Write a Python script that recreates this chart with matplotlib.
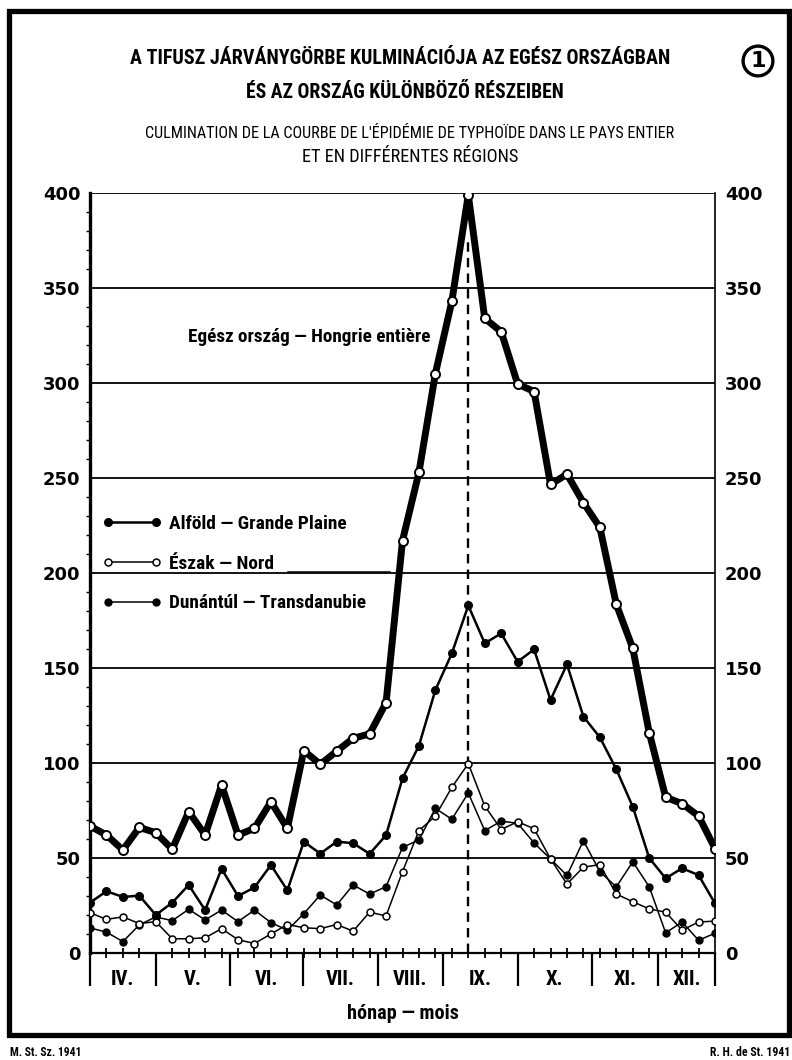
import matplotlib
matplotlib.use("Agg")
import matplotlib.pyplot as plt
from matplotlib import font_manager
from matplotlib.lines import Line2D
from matplotlib.patches import Rectangle
from matplotlib.ticker import MultipleLocator
import matplotlib.transforms as mtrans
import numpy as np

# weekly typhoid cases, April - December
weeks = np.arange(39)
egesz = [66.8, 62.1, 54.2, 66.1, 63.3, 54.6, 74.4, 62.1, 88.4, 62.1,
         65.6, 79.6, 65.6, 106.5, 99.3, 106.2, 113, 115.3, 131.7, 217,
         253, 305, 343, 399, 334, 327, 299.5, 295.5, 246.6, 252,
         237, 224, 183.5, 160.4, 116, 82, 78.6, 72.1, 55]
alfold = [26.5, 32.5, 29.5, 30.2, 20, 26.5, 35.8, 22.6, 44.3, 30,
          34.5, 46.3, 33, 58.6, 52.3, 58.6, 57.8, 52.2, 62, 91.9,
          109.1, 138.4, 157.7, 182.9, 163, 168.2, 153.3, 159.8, 133.2, 151.9,
          124.4, 113.5, 96.7, 77, 50, 39.3, 44.6, 41, 26.1]
eszak = [21.2, 17.7, 19, 15.5, 16.5, 7.5, 7.5, 8, 12.8, 7,
         5, 10, 15, 13.3, 12.8, 15, 11.5, 21.5, 19.5, 42.8,
         64.4, 72.1, 87.2, 99.7, 77.4, 65, 69.1, 65.4, 49.5, 36.3,
         45.2, 46.5, 31, 27, 23.2, 21.5, 12, 16.3, 16.8]
dunantul = [13.2, 11, 6, 14.8, 19, 17, 23, 17.4, 22.6, 16.5,
            22.6, 16, 12, 20.7, 30.5, 25.3, 35.8, 31, 34.9, 55.6,
            59.5, 76.1, 70.4, 84.2, 64.4, 69.4, 68.3, 57.9, 49.5, 40.8,
            59.1, 42.8, 34.8, 48, 34.9, 10.6, 16.3, 6.7, 10.4]

month_names = ["IV.", "V.", "VI.", "VII.", "VIII.", "IX.", "X.", "XI.", "XII."]
month_edges = [0, 4.0, 8.5, 12.95, 17.5, 21.45, 26.0, 30.5, 34.55, 38]
yticks = list(range(0, 401, 50))


def pick_narrow():
    # look for any condensed / narrow face that is installed
    best = None
    for f in font_manager.fontManager.ttflist:
        name = f.name
        cond = ("Narrow" in name or "Condensed" in name
                or f.stretch in ("condensed", "semi-condensed", "extra-condensed", 500))
        if cond:
            if best is None or f.weight in ("bold", 700):
                best = f
    if best is None:
        return {"family": "DejaVu Sans"}
    return {"family": best.name, "stretch": best.stretch}


NARROW = pick_narrow()

fig = plt.figure(figsize=(7.92, 10.6), dpi=100, facecolor="white")
renderer = fig.canvas.get_renderer()


def fit(t, width_px, max_size=None):
    # shrink/grow a text so it spans the width seen in the print
    w = t.get_window_extent(renderer).width
    size = t.get_fontsize() * width_px / w
    if max_size:
        size = min(size, max_size)
    t.set_fontsize(size)
    return t


def ntext(target, x, y, s, width_px, bold=True, max_size=None, **kw):
    t = target.text(x, y, s, weight="bold" if bold else "normal", fontsize=12,
                    **NARROW, **kw)
    return fit(t, width_px, max_size)


# outer frame
fig.add_artist(Rectangle((8.5 / 792, 25 / 1060), 780 / 792, 1024 / 1060,
                         transform=fig.transFigure, fill=False, lw=3.8, ec="black"))

# titles
ntext(fig, 400 / 792, 1 - 58 / 1060, "A TIFUSZ JÁRVÁNYGÖRBE KULMINÁCIÓJA AZ EGÉSZ ORSZÁGBAN",
      540, ha="center", va="center")
ntext(fig, 405 / 792, 1 - 93 / 1060, "ÉS AZ ORSZÁG KÜLÖNBÖZŐ RÉSZEIBEN",
      318, ha="center", va="center")
ntext(fig, 410 / 792, 1 - 134 / 1060,
      "CULMINATION DE LA COURBE DE L'ÉPIDÉMIE DE TYPHOÏDE DANS LE PAYS ENTIER",
      527, bold=False, ha="center", va="center")
ntext(fig, 410 / 792, 1 - 157 / 1060, "ET EN DIFFÉRENTES RÉGIONS",
      215, bold=False, ha="center", va="center")
fig.text(758 / 792, 1 - 61 / 1060, "1", ha="center", va="center",
         weight="bold", fontsize=16,
         bbox=dict(boxstyle="circle,pad=0.22", fc="white", ec="black", lw=2.4))

ntext(fig, 10 / 792, 1 - 1052 / 1060, "M. St. Sz. 1941", 72, ha="left", va="center")
ntext(fig, 790 / 792, 1 - 1052 / 1060, "R. H. de St. 1941", 80, ha="right", va="center")

ax = fig.add_axes([90 / 792, 107 / 1060, 625 / 792, 760 / 1060])
ax.set_xlim(0, 38)
ax.set_ylim(0, 400)

for y in yticks[1:]:
    ax.axhline(y, color="black", lw=1.3, zorder=1)

ax.spines["top"].set_visible(False)
ax.spines["left"].set_linewidth(2.4)
ax.spines["right"].set_linewidth(1.2)
ax.spines["bottom"].set_linewidth(1.6)

ax.set_yticks(yticks)
ax.set_yticklabels([str(v) for v in yticks])
ax.yaxis.set_minor_locator(MultipleLocator(10))
ax.tick_params(axis="y", which="major", length=0, pad=7, labelsize=13,
               left=True, right=True, labelleft=True, labelright=True)
ax.tick_params(axis="y", which="minor", length=3, width=1, direction="out",
               left=True, right=False)
for lab in ax.get_yticklabels():
    lab.set_fontweight("bold")

ax.set_xticks(month_edges)
ax.set_xticklabels([])
ax.set_xticks(weeks, minor=True)
ax.tick_params(axis="x", which="major", direction="out", length=24, width=1.6)
ax.tick_params(axis="x", which="minor", direction="inout", length=7, width=1.3)

# dashed line at the peak week
peak_week = int(np.argmax(egesz))
ax.axvline(peak_week, ymin=0, ymax=0.94, color="black", lw=1.7,
           ls=(0, (4, 2.6)), zorder=2)

ax.plot(weeks, dunantul, color="black", lw=1.1, marker="o", ms=5,
        mfc="black", mec="black", zorder=3, label="Dunántúl — Transdanubie")
ax.plot(weeks, eszak, color="black", lw=1.1, marker="o", ms=5,
        mfc="white", mec="black", mew=1.1, zorder=4, label="Észak — Nord")
ax.plot(weeks, alfold, color="black", lw=1.8, marker="o", ms=5.5,
        mfc="black", mec="black", zorder=5, label="Alföld — Grande Plaine")
ax.plot(weeks, egesz, color="black", lw=5, marker="o", ms=6.5,
        mfc="white", mec="black", mew=1.4, zorder=6)

handles, labels = ax.get_legend_handles_labels()
order = [2, 1, 0]
probe = ax.text(0, 0, labels[2], weight="bold", fontsize=12, **NARROW)
leg_size = fit(probe, 177).get_fontsize()
probe.remove()
fs_px = leg_size * 100 / 72
leg = ax.legend([handles[i] for i in order], [labels[i] for i in order],
                numpoints=2, loc="upper left", bbox_to_anchor=(0.02, 0.5765),
                frameon=False, handlelength=59 / fs_px,
                handletextpad=0.4, labelspacing=44 / fs_px - 1.15,
                borderpad=0, borderaxespad=0,
                prop=font_manager.FontProperties(weight="bold", size=leg_size, **NARROW))
ax.add_line(Line2D([0.317, 0.48], [0.501, 0.501], transform=ax.transAxes,
                   color="black", lw=1.1))

ntext(ax, 5.96, 324, "Egész ország — Hongrie entière", 244, ha="left", va="center",
      zorder=7)

trans = mtrans.blended_transform_factory(ax.transData, ax.transAxes)
ref = ax.text(0, 0, "VIII.", weight="bold", fontsize=12, **NARROW)
month_size = fit(ref, 34).get_fontsize()
ref.remove()
for i, name in enumerate(month_names):
    mid = (month_edges[i] + month_edges[i + 1]) / 2
    ax.text(mid, -0.0355, name, transform=trans, ha="center", va="center",
            weight="bold", fontsize=month_size, **NARROW)

ntext(ax, 0.5, -0.079, "hónap — mois", 112, transform=ax.transAxes, ha="center",
      va="center")

fig.savefig("out.png", dpi=100, facecolor="white")
